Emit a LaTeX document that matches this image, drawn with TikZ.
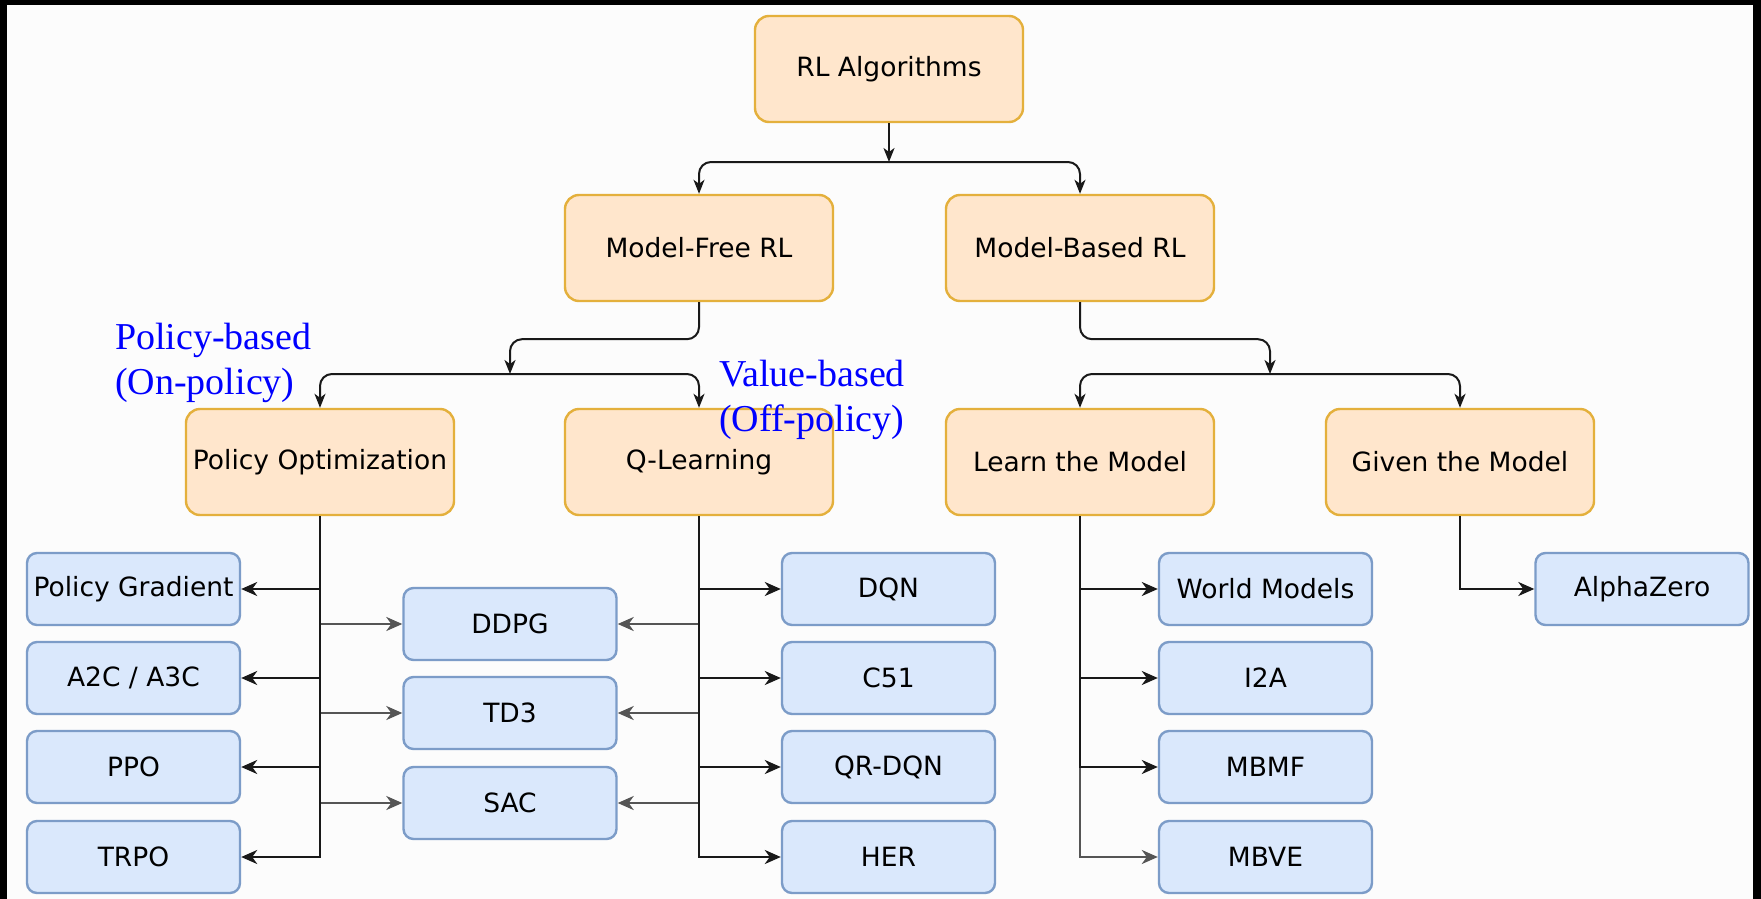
\documentclass[tikz,border=0pt]{standalone}
\usepackage{fontspec}
\setmainfont{DejaVu Sans}
\newfontfamily\lblfont{Liberation Serif}
\usetikzlibrary{arrows.meta}
\definecolor{ofill}{HTML}{FFE6CC}
\definecolor{odraw}{RGB}{228,176,60}
\definecolor{bfill}{HTML}{DAE8FC}
\definecolor{bdraw}{HTML}{7C9CC8}
\definecolor{grayarr}{HTML}{555555}
\definecolor{bgc}{HTML}{FCFCFC}
\begin{document}
\begin{tikzpicture}[x=1pt,y=-1pt,
  big/.style={draw=odraw,fill=ofill,line width=2.4pt,rounded corners=14pt,minimum width=268pt,minimum height=106pt,inner sep=0pt,font=\fontsize{26.5}{32}\selectfont},
  leaf/.style={draw=bdraw,fill=bfill,line width=2.4pt,rounded corners=10pt,minimum width=213pt,minimum height=72pt,inner sep=0pt,font=\fontsize{26.5}{32}\selectfont},
  arr/.style={line width=2pt,draw=black!90,-{Stealth[length=14pt,width=11pt,inset=4pt]}},
  larr/.style={line width=2.4pt,draw=black!90,-{Stealth[length=16pt,width=14pt,inset=5pt]}},
  garr/.style={larr,draw=grayarr},
  lbl/.style={text=blue,font=\lblfont\fontsize{38}{45}\selectfont,align=left,anchor=north west,inner sep=0pt}
]
\useasboundingbox (0,0) rectangle (1761,899);
\fill[black] (0,0) rectangle (1761,899);
\fill[bgc] (7,5) rectangle (1753,899);

% main nodes
\node[big] (rl) at (889,69) {RL Algorithms};
\node[big] (mf) at (699,248) {Model-Free RL};
\node[big] (mb) at (1080,248) {Model-Based RL};
\node[big] (po) at (320,462) {Policy Optimization};
\node[big] (ql) at (699,462) {Q-Learning};
\node[big] (lm) at (1080,462) {Learn the Model};
\node[big] (gm) at (1460,462) {Given the Model};

% leaves
\node[leaf] (pg) at (133.5,589) {Policy Gradient};
\node[leaf] (a2c) at (133.5,678) {A2C / A3C};
\node[leaf] (ppo) at (133.5,767) {PPO};
\node[leaf] (trpo) at (133.5,857) {TRPO};
\node[leaf] (ddpg) at (510,624) {DDPG};
\node[leaf] (td3) at (510,713) {TD3};
\node[leaf] (sac) at (510,803) {SAC};
\node[leaf] (dqn) at (888.5,589) {DQN};
\node[leaf] (c51) at (888.5,678) {C51};
\node[leaf] (qr) at (888.5,767) {QR-DQN};
\node[leaf] (her) at (888.5,857) {HER};
\node[leaf] (wm) at (1265.5,589) {World Models};
\node[leaf] (i2a) at (1265.5,678) {I2A};
\node[leaf] (mbmf) at (1265.5,767) {MBMF};
\node[leaf] (mbve) at (1265.5,857) {MBVE};
\node[leaf] (az) at (1642,589) {AlphaZero};

% junctions
\coordinate (j1) at (889,162);
\coordinate (j2) at (510,374);
\coordinate (j3) at (1270,374);

% top-level connectors
\draw[arr] (rl.south) -- (j1);
\draw[arr,rounded corners=12pt] (j1) -| (mf.north);
\draw[arr,rounded corners=12pt] (j1) -| (mb.north);
\draw[arr,rounded corners=12pt] (mf.south) -- ++(0,37) -| (j2);
\draw[arr,rounded corners=12pt] (j2) -| (po.north);
\draw[arr,rounded corners=12pt] (j2) -| (ql.north);
\draw[arr,rounded corners=12pt] (mb.south) -- ++(0,37) -| (j3);
\draw[arr,rounded corners=12pt] (j3) -| (lm.north);
\draw[arr,rounded corners=12pt] (j3) -| (gm.north);

% gray connectors to shared leaves
\draw[garr] (po.south) |- (ddpg.west);
\draw[garr] (po.south) |- (td3.west);
\draw[garr] (po.south) |- (sac.west);
\draw[garr] (ql.south) |- (ddpg.east);
\draw[garr] (ql.south) |- (td3.east);
\draw[garr] (ql.south) |- (sac.east);
\draw[garr] (lm.south) |- (mbve.west);

% black leaf connectors
\draw[larr] (po.south) |- (pg.east);
\draw[larr] (po.south) |- (a2c.east);
\draw[larr] (po.south) |- (ppo.east);
\draw[larr] (po.south) |- (trpo.east);
\draw[larr] (ql.south) |- (dqn.west);
\draw[larr] (ql.south) |- (c51.west);
\draw[larr] (ql.south) |- (qr.west);
\draw[larr] (ql.south) |- (her.west);
\draw[larr] (lm.south) |- (wm.west);
\draw[larr] (lm.south) |- (i2a.west);
\draw[larr] (lm.south) |- (mbmf.west);
\draw[larr] (gm.south) |- (az.west);

% labels
\node[lbl] (pbl) at (115,323) {Policy-based\\(On-policy)};
\node[lbl] (vbl) at (719,360) {Value-based\\(Off-policy)};
\end{tikzpicture}
\end{document}
